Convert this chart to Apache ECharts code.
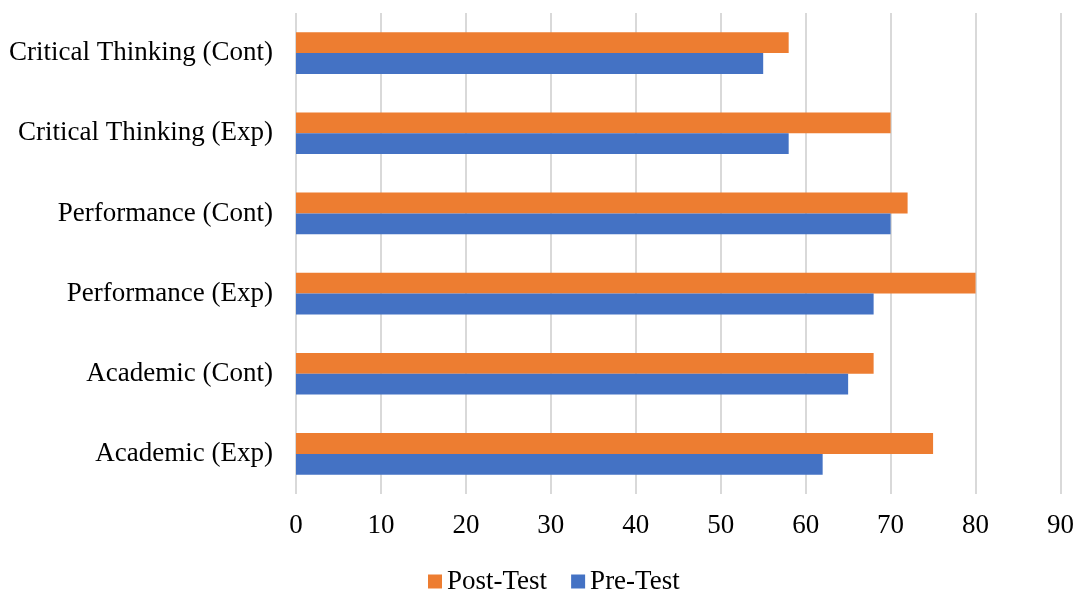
<!DOCTYPE html>
<html>
<head>
<meta charset="utf-8">
<script src="https://cdn.jsdelivr.net/npm/echarts@6/dist/echarts.min.js"></script>
<style>
  html, body { margin: 0; padding: 0; background: #ffffff; }
  #chart { width: 1077px; height: 592px; }
</style>
</head>
<body>
<div id="chart"></div>
<script>
// Groups, listed bottom to top along the category axis
const categories = [
  'Academic (Exp)',
  'Academic (Cont)',
  'Performance (Exp)',
  'Performance (Cont)',
  'Critical Thinking (Exp)',
  'Critical Thinking (Cont)'
];
const postTest = [75, 68, 80, 72, 70, 58];
const preTest  = [62, 65, 68, 70, 58, 55];
const xTicks = { min: 0, max: 90, step: 10 };

const FONT = '"Liberation Serif", "Times New Roman", serif';
const FS = 27;

const chart = echarts.init(document.getElementById('chart'), null, { renderer: 'canvas' });
chart.setOption({
  animation: false,
  backgroundColor: '#ffffff',
  grid: { left: 296, right: 16, top: 13, bottom: 98, containLabel: false },
  legend: {
    data: ['Post-Test', 'Pre-Test'],
    top: 563,
    left: 423,
    itemWidth: 14,
    itemHeight: 14,
    itemGap: 24,
    icon: 'rect',
    textStyle: { fontFamily: FONT, fontSize: FS, color: '#000000' }
  },
  xAxis: {
    type: 'value',
    min: xTicks.min,
    max: xTicks.max,
    interval: xTicks.step,
    axisLine: { show: false },
    axisTick: { show: false },
    axisLabel: { fontFamily: FONT, fontSize: FS, color: '#000000', margin: 18 },
    splitLine: { show: true, lineStyle: { color: '#d9d9d9', width: 2 } }
  },
  yAxis: {
    type: 'category',
    data: categories,
    axisLine: { show: false },
    axisTick: { show: false },
    axisLabel: { fontFamily: FONT, fontSize: FS, color: '#000000', margin: 23 },
    splitLine: { show: false }
  },
  series: [
    {
      name: 'Post-Test',
      type: 'bar',
      data: postTest,
      barGap: '0%',
      barCategoryGap: '48%',
      itemStyle: { color: '#ED7D31' }
    },
    {
      name: 'Pre-Test',
      type: 'bar',
      data: preTest,
      barGap: '0%',
      barCategoryGap: '48%',
      itemStyle: { color: '#4472C4' }
    }
  ]
});
</script>
</body>
</html>
